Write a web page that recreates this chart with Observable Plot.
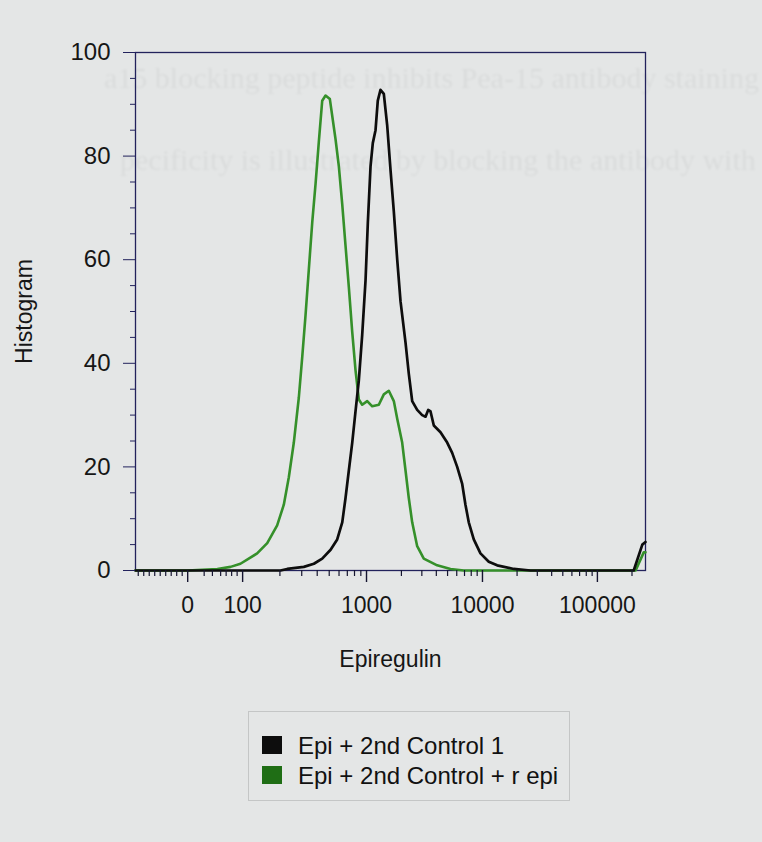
<!DOCTYPE html>
<html>
<head>
<meta charset="utf-8">
<script src="https://cdn.jsdelivr.net/npm/d3@7"></script>
<script src="https://cdn.jsdelivr.net/npm/@observablehq/plot@0.6"></script>
<style>
  html, body { margin: 0; padding: 0; background: #e4e6e6; }
  body { width: 762px; height: 842px; position: relative; overflow: hidden; font-family: "Liberation Sans", Arial, sans-serif; }
  .ghost { position: absolute; font-family: "Liberation Serif", "DejaVu Serif", serif; color: rgba(0,0,0,0.045); white-space: nowrap; line-height: 1; filter: blur(1.1px); }
  #chart { position: absolute; left: 0; top: 0; }
  #legend { position: absolute; left: 248px; top: 711px; width: 322px; height: 90px; border: 1px solid #c4c6c6; box-sizing: border-box; }
  .item { position: absolute; left: 13px; font-size: 24px; line-height: 1; color: #111; white-space: nowrap; }
  .sw { position: absolute; left: 0; top: 0; width: 20px; height: 18px; }
  .lbl { position: absolute; left: 36px; top: -2px; }
</style>
</head>
<body>
<div class="ghost" style="left:104px; top:63px; font-size:30px;">a15 blocking peptide inhibits Pea-15 antibody staining</div>
<div class="ghost" style="left:120px; top:145px; font-size:30px;">pecificity is illustrated by blocking the antibody with</div>
<div id="chart"></div>
<div id="legend"></div>
<script>
// ---- data ----
const seriesNames = ["Epi + 2nd Control 1", "Epi + 2nd Control + r epi"];
const seriesColors = ["#0d0d0d", "#1f6e15"];

// Epi + 2nd Control 1 (black)
const controlX = [-95, 202, 229, 312, 376, 439, 513, 580, 637, 677, 720, 767, 815, 867, 923, 982, 1026, 1083, 1133, 1196, 1251, 1320, 1410, 1507, 1611, 1720, 1840, 1964, 2170, 2315, 2477, 2735, 3020, 3228, 3404, 3565, 3805, 4345, 4963, 5480, 6053, 6686, 7133, 7617, 8414, 9611, 11345, 13420, 18720, 26140, 207000, 246000, 262144];
const controlY = [0, 0, 0.3, 0.7, 1.3, 2.3, 4, 6, 9.3, 14, 19.3, 24.7, 30.7, 36.7, 45.5, 56, 67, 78, 82.5, 85, 90.7, 92.8, 92, 86, 77.3, 69.3, 60, 52, 44, 38, 32.7, 31, 30, 29.7, 31, 30.7, 28, 26.7, 24.7, 22.7, 20, 16.7, 12.7, 9.3, 6, 3.3, 1.7, 1, 0.3, 0, 0, 5, 5.5];

// Epi + 2nd Control + r epi (green)
const repiX = [-95, 0, 54, 78, 96, 131, 158, 190, 215, 236, 259, 284, 303, 322, 342, 365, 388, 412, 439, 467, 506, 562, 598, 637, 677, 720, 767, 815, 867, 923, 1014, 1120, 1277, 1410, 1557, 1720, 1840, 2030, 2170, 2315, 2477, 2735, 3118, 4066, 5298, 6900, 215000, 253000, 262144];
const repiY = [0, 0, 0.3, 0.7, 1.3, 3.3, 5.3, 8.7, 12.7, 18, 24.7, 33.3, 41.3, 49.3, 58, 67.3, 74.7, 82.7, 90.7, 91.7, 91, 83.3, 78, 70.7, 62.7, 54.7, 46, 38.7, 33, 32, 32.7, 31.7, 32, 34, 34.7, 32.7, 29.3, 24.7, 19.3, 14, 9.3, 4.7, 2.3, 1, 0.3, 0, 0, 3.5, 3.5];

const xMajorTicks = [0, 100, 1000, 10000, 100000];
const xMinorTicks = [-90, -80, -70, -60, -50, -40, -30, -20, -10, 30, 45, 60, 70, 80, 90,
  200, 300, 400, 500, 600, 700, 800, 900,
  2000, 3000, 4000, 5000, 6000, 7000, 8000, 9000,
  20000, 30000, 40000, 50000, 60000, 70000, 80000, 90000, 200000];
const yMajorTicks = [0, 20, 40, 60, 80, 100];
const yMinorTicks = [5, 10, 15, 25, 30, 35, 45, 50, 55, 65, 70, 75, 85, 90, 95];
const xDomain = [-95, 262144];
const yDomain = [0, 100];
const xLabel = "Epiregulin";
const yLabel = "Histogram";

// cytometer display transform: linear around zero, logarithmic above 100
function biex(v) {
  if (v <= 100) return 0.478 * v / 100;
  if (v <= 1000) return 0.478 + 1.078 * Math.log10(v / 100);
  if (v <= 10000) return 1.556 + 1.009 * Math.log10(v / 1000);
  return 2.565 + Math.log10(v / 10000);
}

const W = 762, H = 690, mT = 52, mB = 120, mL = 135, mR = 117;
const frameH = H - mT - mB;
const navy = "#22225c";
const chart = Plot.plot({
  width: W,
  height: H,
  marginLeft: mL,
  marginRight: mR,
  marginTop: mT,
  marginBottom: mB,
  style: { background: "transparent", fontFamily: "'Liberation Sans', Arial, sans-serif", color: "#161616" },
  x: { type: "linear", transform: biex, domain: xDomain.map(biex), axis: null },
  y: { domain: yDomain, axis: null },
  marks: [
    Plot.frame({ stroke: navy, strokeWidth: 1.3 }),
    Plot.line(d3.range(repiX.length), { x: repiX, y: repiY, stroke: "#35902a", strokeWidth: 2.6 }),
    Plot.line(d3.range(controlX.length), { x: controlX, y: controlY, stroke: seriesColors[0], strokeWidth: 2.7 }),
    Plot.axisY({ ticks: yMinorTicks, tickSize: 5, tickFormat: () => "", label: null, stroke: navy }),
    Plot.axisY({ ticks: yMajorTicks, tickSize: 12, tickPadding: 13, fontSize: 24, tickFormat: d => String(d), label: null, stroke: navy }),
    // x axis ticks and labels (biexponential display)
    Plot.ruleX(xMinorTicks, { x: d => d, insetTop: frameH, insetBottom: -6, stroke: "#151530", strokeWidth: 1.2 }),
    Plot.ruleX(xMajorTicks, { x: d => d, insetTop: frameH, insetBottom: -12, stroke: "#151530", strokeWidth: 1.4 }),
    Plot.text(xMajorTicks, { x: d => d, frameAnchor: "bottom", lineAnchor: "top", dy: 26, text: d => String(d), fontSize: 23, fill: "#161616" }),
    Plot.text([xLabel], { frameAnchor: "bottom", lineAnchor: "middle", dy: 89, fontSize: 23, fill: "#161616" }),
    Plot.text([yLabel], { frameAnchor: "left", textAnchor: "middle", lineAnchor: "middle", dx: -111, rotate: -90, fontSize: 23, fill: "#161616" })
  ]
});
document.getElementById("chart").appendChild(chart);

const legend = document.getElementById("legend");
seriesNames.forEach((name, i) => {
  const item = document.createElement("div");
  item.className = "item";
  item.style.top = (24 + i * 30) + "px";
  const sw = document.createElement("span");
  sw.className = "sw";
  sw.style.background = seriesColors[i];
  const lbl = document.createElement("span");
  lbl.className = "lbl";
  lbl.textContent = name;
  item.appendChild(sw);
  item.appendChild(lbl);
  legend.appendChild(item);
});
</script>
</body>
</html>
